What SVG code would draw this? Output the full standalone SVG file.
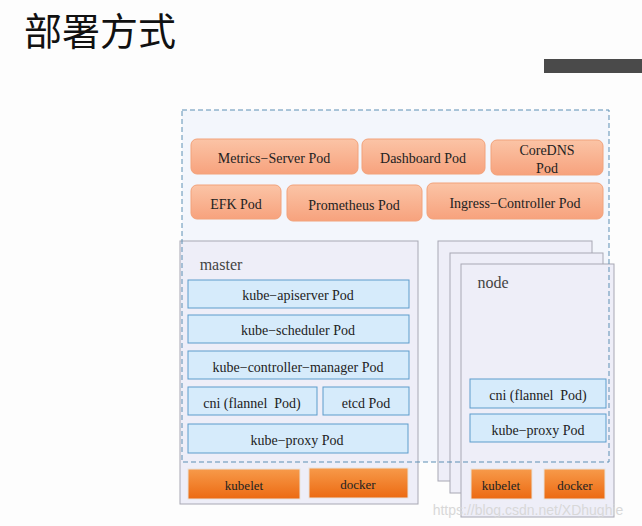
<svg xmlns="http://www.w3.org/2000/svg" width="642" height="526" viewBox="0 0 642 526">
<defs>
<linearGradient id="og" x1="0" y1="0" x2="0" y2="1"><stop offset="0" stop-color="#fbc4a6"/><stop offset="1" stop-color="#f7a27d"/></linearGradient>
<linearGradient id="dg" x1="0" y1="0" x2="0" y2="1"><stop offset="0" stop-color="#f79a4a"/><stop offset="1" stop-color="#ec6a12"/></linearGradient>
</defs>
<style>
text{font-family:"Liberation Serif","DejaVu Serif",serif;text-anchor:middle;fill:#222}
.t{font-size:14px}
.op{fill:url(#og);stroke:#f2a27a;stroke-width:1}
.bp{fill:#d6ebfb;stroke:#5d9ccb;stroke-width:1}
.dp{fill:url(#dg);stroke:#e7e2dc;stroke-width:1}
.hb{fill:#eeeef8;stroke:#a8a8b4;stroke-width:1}
</style>
<rect width="642" height="526" fill="#fdfdfd"/>
<text x="100" y="45" style="font-size:38px;font-family:'Noto Sans CJK SC',sans-serif;fill:#111">部署方式</text>
<rect x="544" y="59" width="98" height="14" fill="#4a4a4a"/>
<rect x="182" y="110" width="427" height="352" fill="#f3f6fc" stroke="none"/>
<g id="master"><rect class="hb" x="180" y="241" width="238" height="263"/><text x="221" y="270" style="font-size:16px;text-anchor:middle;fill:#444">master</text></g>
<g id="node3"><rect class="hb" x="438" y="241" width="154" height="240"/></g>
<g id="node2"><rect class="hb" x="450" y="253" width="153" height="240"/></g>
<g id="node"><rect class="hb" x="461" y="264" width="153" height="253"/><text x="493" y="288" style="font-size:16px;fill:#444">node</text></g>
<g id="metrics"><rect class="op" x="191" y="139" width="167" height="35" rx="6"/><text class="t" x="274" y="163">Metrics−Server Pod</text></g>
<g id="dashboard"><rect class="op" x="362" y="139" width="123" height="35" rx="6"/><text class="t" x="423" y="163">Dashboard Pod</text></g>
<g id="coredns"><rect class="op" x="491" y="140" width="112" height="35" rx="6"/><text class="t" x="547" y="155">CoreDNS</text><text class="t" x="547" y="173">Pod</text></g>
<g id="efk"><rect class="op" x="191" y="185" width="90" height="34" rx="6"/><text class="t" x="236" y="209">EFK Pod</text></g>
<g id="prometheus"><rect class="op" x="287" y="185" width="135" height="36" rx="6"/><text class="t" x="354" y="210">Prometheus Pod</text></g>
<g id="ingress"><rect class="op" x="427" y="183" width="176" height="36" rx="6"/><text class="t" x="515" y="208">Ingress−Controller Pod</text></g>
<g id="apiserver"><rect class="bp" x="188" y="280" width="221" height="28"/><text class="t" x="298" y="300">kube−apiserver Pod</text></g>
<g id="scheduler"><rect class="bp" x="188" y="315" width="221" height="28"/><text class="t" x="298" y="335">kube−scheduler Pod</text></g>
<g id="controller"><rect class="bp" x="188" y="351" width="221" height="28"/><text class="t" x="298" y="372">kube−controller−manager Pod</text></g>
<g id="cni-m"><rect class="bp" x="188" y="387" width="129" height="28"/><text class="t" x="252" y="408" xml:space="preserve">cni (flannel  Pod)</text></g>
<g id="etcd"><rect class="bp" x="323" y="387" width="86" height="28"/><text class="t" x="366" y="408">etcd Pod</text></g>
<g id="proxy-m"><rect class="bp" x="188" y="424" width="220" height="29"/><text class="t" x="297" y="445">kube−proxy Pod</text></g>
<g id="cni-n"><rect class="bp" x="470" y="379" width="136" height="29"/><text class="t" x="538" y="400" xml:space="preserve">cni (flannel  Pod)</text></g>
<g id="proxy-n"><rect class="bp" x="470" y="414" width="136" height="28"/><text class="t" x="538" y="435">kube−proxy Pod</text></g>
<g id="connectors"><rect x="182" y="110" width="427" height="352" fill="none" stroke="#5d8fb4" stroke-dasharray="5,3"/></g>
<g id="kubelet-m"><rect class="dp" x="188" y="469" width="112" height="30"/><text x="244" y="490" style="font-size:13px">kubelet</text></g>
<g id="docker-m"><rect class="dp" x="309" y="468" width="99" height="30"/><text x="358" y="489" style="font-size:13px">docker</text></g>
<g id="kubelet-n"><rect class="dp" x="471" y="469" width="61" height="30"/><text x="501" y="490" style="font-size:13px">kubelet</text></g>
<g id="docker-n"><rect class="dp" x="544" y="469" width="61" height="30"/><text x="575" y="490" style="font-size:13px">docker</text></g>
<text x="528" y="515" style="font-family:'Liberation Sans',sans-serif;font-size:14px;fill:#d8d8d8">https://blog.csdn.net/XDhughie</text>
</svg>
